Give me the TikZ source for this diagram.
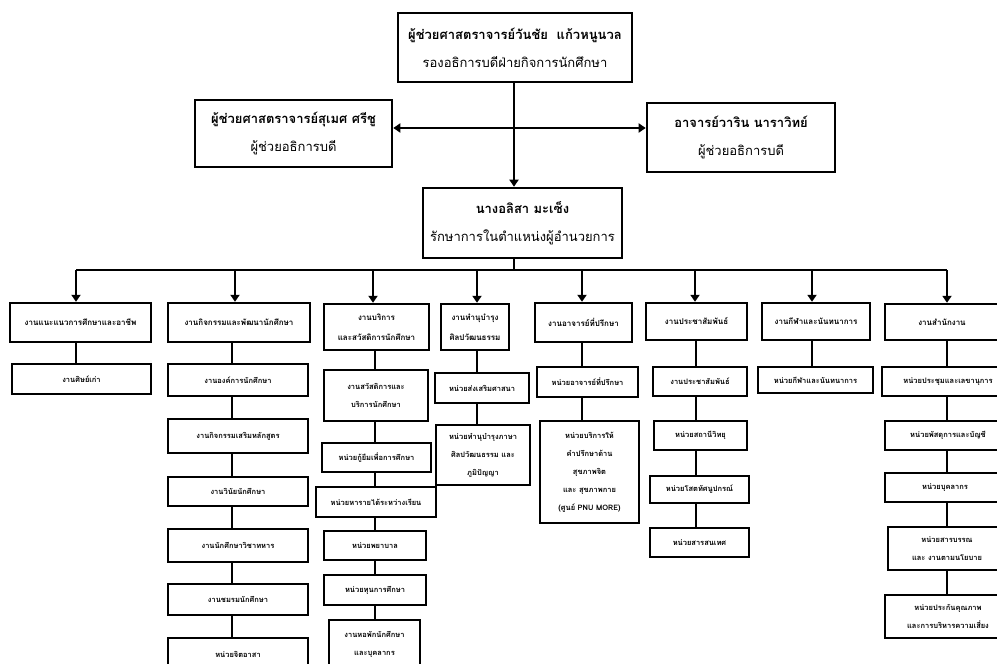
\documentclass[tikz,border=0pt]{standalone}
\usepackage{fontspec}
\newfontfamily\thai[Script=Thai]{Loma}
\usetikzlibrary{arrows.meta}
\begin{document}
\begin{tikzpicture}[x=1pt,y=-1pt,
 bigbox/.style={draw, line width=2.6pt, inner sep=0pt, align=center, font=\thai\fontsize{13}{28}\selectfont},
 deptbox/.style={draw, line width=2.4pt, inner sep=0pt, align=center, font=\thai\bfseries\fontsize{8}{20}\selectfont},
 unitbox/.style={draw, line width=1.3pt, inner sep=0pt, align=center, font=\thai\bfseries\fontsize{7.5}{18}\selectfont},
 link/.style={line width=1.3pt},
 thickline/.style={line width=2.4pt},
 arr/.style={line width=2.4pt, -{Triangle[length=7pt,width=9pt]}},
]
\useasboundingbox (0,0) rectangle (997,664);
\clip (0,0) rectangle (997,664);
\fill[white] (0,0) rectangle (997,664);

% top level
\node[bigbox, minimum width=234pt, minimum height=69pt] (top) at (515,47.5)
  {\textbf{ผู้ช่วยศาสตราจารย์วันชัย\ \ แก้วหนูนวล}\\รองอธิการบดีฝ่ายกิจการนักศึกษา};
\node[bigbox, minimum width=197pt, minimum height=67pt] (left) at (293.5,133.5)
  {\textbf{ผู้ช่วยศาสตราจารย์สุเมศ ศรีชู}\\ผู้ช่วยอธิการบดี};
\node[bigbox, minimum width=188pt, minimum height=69pt] (right) at (741,137.5)
  {\textbf{อาจารย์วาริน นาราวิทย์}\\ผู้ช่วยอธิการบดี};
\node[bigbox, minimum width=199pt, minimum height=70pt] (center) at (522.5,223)
  {\textbf{นางอลิสา มะเซ็ง}\\รักษาการในตำแหน่งผู้อำนวยการ};

\coordinate (j1) at (514,128);
\coordinate (jb) at (514,270);
\draw[arr] (top.south -| jb) -- (center.north -| jb);
\draw[arr] (j1) -- (j1 -| left.east);
\draw[arr] (j1) -- (j1 -| right.west);
\draw[thickline] (center.south -| jb) -- (jb);

% departments
\node[deptbox, minimum width=141pt, minimum height=39pt] (d1) at (80.5,322.5) {งานแนะแนวการศึกษาและอาชีพ};
\node[deptbox, minimum width=142pt, minimum height=39pt] (d2) at (239,322.5) {งานกิจกรรมและพัฒนานักศึกษา};
\node[deptbox, minimum width=105pt, minimum height=46pt] (d3) at (376.5,327) {งานบริการ\\และสวัสดิการนักศึกษา};
\node[deptbox, minimum width=68pt, minimum height=46pt] (d4) at (475,327) {งานทำนุบำรุง\\ศิลปวัฒนธรรม};
\node[deptbox, minimum width=97pt, minimum height=39pt] (d5) at (583.5,322.5) {งานอาจารย์ที่ปรึกษา};
\node[deptbox, minimum width=101pt, minimum height=37pt] (d6) at (696.5,321.5) {งานประชาสัมพันธ์};
\node[deptbox, minimum width=108pt, minimum height=37pt] (d7) at (816,321.5) {งานกีฬาและนันทนาการ};
\node[deptbox, minimum width=114pt, minimum height=36pt] (d8) at (942,322) {งานสำนักงาน};

\coordinate (a1) at (76,270);
\coordinate (a2) at (235,270);
\coordinate (a3) at (373,270);
\coordinate (a4) at (477,270);
\coordinate (a5) at (582,270);
\coordinate (a6) at (695,270);
\coordinate (a7) at (812,270);
\coordinate (a8) at (947,270);
\draw[thickline] (a1) -- (a8);
\foreach \i in {1,...,8} { \draw[arr] (a\i) -- (a\i |- d\i.north); }

% column 1
\node[unitbox, minimum width=139pt, minimum height=30pt] (c1a) at (81.5,379) {งานศิษย์เก่า};
\draw[link] (a1 |- d1.south) -- (a1 |- c1a.north);

% column 2
\coordinate (x2) at (232,0);
\node[unitbox, minimum width=140pt, minimum height=32pt] (c2a) at (238,380) {งานองค์การนักศึกษา};
\node[unitbox, minimum width=140pt, minimum height=34pt] (c2b) at (238,436) {งานกิจกรรมเสริมหลักสูตร};
\node[unitbox, minimum width=140pt, minimum height=29pt] (c2c) at (238,491.5) {งานวินัยนักศึกษา};
\node[unitbox, minimum width=140pt, minimum height=33pt] (c2d) at (238,545.5) {งานนักศึกษาวิชาทหาร};
\node[unitbox, minimum width=140pt, minimum height=31pt] (c2e) at (238,599.5) {งานชมรมนักศึกษา};
\node[unitbox, minimum width=140pt, minimum height=32pt] (c2f) at (238,654) {หน่วยจิตอาสา};
\draw[link] (x2 |- d2.south) -- (x2 |- c2a.north);
\draw[link] (x2 |- c2a.south) -- (x2 |- c2b.north);
\draw[link] (x2 |- c2b.south) -- (x2 |- c2c.north);
\draw[link] (x2 |- c2c.south) -- (x2 |- c2d.north);
\draw[link] (x2 |- c2d.south) -- (x2 |- c2e.north);
\draw[link] (x2 |- c2e.south) -- (x2 |- c2f.north);

% column 3
\coordinate (x3) at (375,0);
\node[unitbox, minimum width=104pt, minimum height=51pt] (c3a) at (376,395.5) {งานสวัสดิการและ\\บริการนักศึกษา};
\node[unitbox, minimum width=109pt, minimum height=29pt] (c3b) at (376.5,457.5) {หน่วยกู้ยืมเพื่อการศึกษา};
\node[unitbox, minimum width=120pt, minimum height=30pt] (c3c) at (376,502) {หน่วยหารายได้ระหว่างเรียน};
\node[unitbox, minimum width=102pt, minimum height=29pt] (c3d) at (375,545.5) {หน่วยพยาบาล};
\node[unitbox, minimum width=102pt, minimum height=30pt] (c3e) at (375,590) {หน่วยทุนการศึกษา};
\node[unitbox, minimum width=91pt, minimum height=48pt] (c3f) at (374.5,644) {งานหอพักนักศึกษา\\และบุคลากร};
\draw[link] (x3 |- d3.south) -- (x3 |- c3a.north);
\draw[link] (x3 |- c3a.south) -- (x3 |- c3b.north);
\draw[link] (x3 |- c3b.south) -- (x3 |- c3c.north);
\draw[link] (x3 |- c3c.south) -- (x3 |- c3d.north);
\draw[link] (x3 |- c3d.south) -- (x3 |- c3e.north);
\draw[link] (x3 |- c3e.south) -- (x3 |- c3f.north);

% column 4
\node[unitbox, minimum width=94pt, minimum height=30pt] (c4a) at (482,388) {หน่วยส่งเสริมศาสนา};
\node[unitbox, minimum width=94pt, minimum height=60pt] (c4b) at (483,455) {หน่วยทำนุบำรุงภาษา\\ศิลปวัฒนธรรม และ\\ภูมิปัญญา};
\draw[link] (a4 |- d4.south) -- (a4 |- c4a.north);
\draw[link] (a4 |- c4a.south) -- (a4 |- c4b.north);

% column 5
\node[unitbox, minimum width=101pt, minimum height=30pt] (c5a) at (587.5,382) {หน่วยอาจารย์ที่ปรึกษา};
\node[unitbox, minimum width=99pt, minimum height=102pt] (c5b) at (589.5,472) {หน่วยบริการให้\\คำปรึกษาด้าน\\สุขภาพจิต\\และ สุขภาพกาย\\(ศูนย์ PNU MORE)};
\draw[link] (a5 |- d5.south) -- (a5 |- c5a.north);
\draw[link] (a5 |- c5a.south) -- (a5 |- c5b.north);

% column 6
\coordinate (x6) at (696,0);
\node[unitbox, minimum width=94pt, minimum height=29pt] (c6a) at (700,381.5) {งานประชาสัมพันธ์};
\node[unitbox, minimum width=93pt, minimum height=29pt] (c6b) at (700.5,435.5) {หน่วยสถานีวิทยุ};
\node[unitbox, minimum width=99pt, minimum height=27pt] (c6c) at (699.5,489.5) {หน่วยโสตทัศนูปกรณ์};
\node[unitbox, minimum width=99pt, minimum height=29pt] (c6d) at (699.5,542.5) {หน่วยสารสนเทศ};
\draw[link] (x6 |- d6.south) -- (x6 |- c6a.north);
\draw[link] (x6 |- c6a.south) -- (x6 |- c6b.north);
\draw[link] (x6 |- c6b.south) -- (x6 |- c6c.north);
\draw[link] (x6 |- c6c.south) -- (x6 |- c6d.north);

% column 7
\node[unitbox, minimum width=115pt, minimum height=26pt] (c7a) at (815.5,380) {หน่วยกีฬาและนันทนาการ};
\draw[link] (a7 |- d7.south) -- (a7 |- c7a.north);

% column 8
\node[unitbox, minimum width=132pt, minimum height=29pt] (c8a) at (948,381.5) {หน่วยประชุมและเลขานุการ};
\node[unitbox, minimum width=126pt, minimum height=29pt] (c8b) at (948,435.5) {หน่วยพัสดุการและบัญชี};
\node[unitbox, minimum width=120pt, minimum height=29pt] (c8c) at (945,487.5) {หน่วยบุคลากร};
\node[unitbox, minimum width=118pt, minimum height=43pt] (c8d) at (947,548.5) {หน่วยสารบรรณ\\และ งานตามนโยบาย};
\node[unitbox, minimum width=126pt, minimum height=43pt] (c8e) at (948,616.5) {หน่วยประกันคุณภาพ\\และการบริหารความเสี่ยง};
\draw[link] (a8 |- d8.south) -- (a8 |- c8a.north);
\draw[link] (a8 |- c8a.south) -- (a8 |- c8b.north);
\draw[link] (a8 |- c8b.south) -- (a8 |- c8c.north);
\draw[link] (a8 |- c8c.south) -- (a8 |- c8d.north);
\draw[link] (a8 |- c8d.south) -- (a8 |- c8e.north);
\end{tikzpicture}
\end{document}
